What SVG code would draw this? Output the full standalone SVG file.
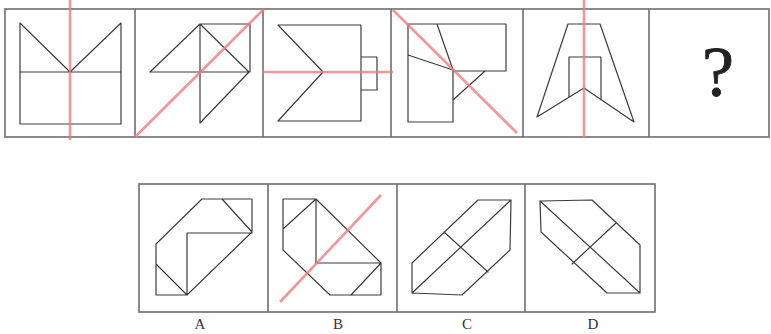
<svg xmlns="http://www.w3.org/2000/svg" width="771" height="334" viewBox="0 0 771 334">
<style>
.frame{fill:none;stroke:#6e6e6e;stroke-width:1.6}
.fig{fill:none;stroke:#3c3c3c;stroke-width:1.2;stroke-linejoin:round;stroke-linecap:round}
.axis{stroke:#f07a80;stroke-width:2.6;stroke-opacity:0.8;fill:none}
.lbl{font-family:"Liberation Serif",serif;font-size:15px;fill:#333;text-anchor:middle}
.q{font-family:"Liberation Serif",serif;font-size:72px;fill:#222;text-anchor:middle;stroke:#222;stroke-width:0.8}
</style>
<rect width="771" height="334" fill="#fff"/>
<g id="top-row-frame">
<rect class="frame" x="5" y="9" width="764" height="128"/>
<line class="frame" x1="135" y1="9" x2="135" y2="137"/>
<line class="frame" x1="263" y1="9" x2="263" y2="137"/>
<line class="frame" x1="391" y1="9" x2="391" y2="137"/>
<line class="frame" x1="523" y1="9" x2="523" y2="137"/>
<line class="frame" x1="649" y1="9" x2="649" y2="137"/>
</g>
<g id="fig1">
<path class="fig" d="M20,23 L20,124 L121,124 L121,23 L70,72 L20,23 M20,72 L121,72"/>
<line class="axis" x1="70" y1="0" x2="70" y2="140"/>
</g>
<g id="fig2">
<path class="fig" d="M150,72 L200,24 L250,24 L250,72 M200,24 L249,72 L200,123 L200,24 M150,72 L249,72"/>
<line class="axis" x1="135" y1="137" x2="264" y2="9"/>
</g>
<g id="fig3">
<path class="fig" d="M278,25 L361,25 L361,121 L278,121 L323,72 Z M361,57 L377,57 L377,90 L361,90"/>
<line class="axis" x1="263" y1="72" x2="393" y2="72"/>
</g>
<g id="fig4">
<path class="fig" d="M408,24 L506,24 L506,71 L453,71 M408,24 L408,122 L453,122 L453,70 M437,24 L453,70 M408,55 L453,70 M453,100 L485,71"/>
<line class="axis" x1="393" y1="10" x2="517" y2="133"/>
</g>
<g id="fig5">
<path class="fig" d="M568,24 L600,24 L634,122 L584,88 L537,117 Z M569,97 L569,57 L601,57 L601,100"/>
<line class="axis" x1="584" y1="0" x2="584" y2="138"/>
</g>
<g id="fig6">
<text class="q" x="718" y="96">?</text>
</g>
<g id="bottom-row-frame">
<rect class="frame" x="139" y="184" width="516" height="128"/>
<line class="frame" x1="268" y1="184" x2="268" y2="312"/>
<line class="frame" x1="397" y1="184" x2="397" y2="312"/>
<line class="frame" x1="525" y1="184" x2="525" y2="312"/>
</g>
<g id="optA">
<path class="fig" d="M202,199 L252,199 L252,232 L187,295 L156,295 L156,244 Z M222,199 L252,232 M156,264 L187,295 M187,295 L187,233 L252,233"/>
<text class="lbl" x="200" y="329">A</text>
</g>
<g id="optB">
<path class="fig" d="M283,199 L316,199 L381,263 L381,295 L330,295 L283,250 Z M316,199 L316,263 L381,263 M316,199 L283,229 M381,263 L351,295"/>
<line class="axis" x1="280" y1="302" x2="381" y2="195"/>
<text class="lbl" x="338" y="329">B</text>
</g>
<g id="optC">
<path class="fig" d="M478,200 L511,200 L510,250 L462,295 L412,293 L412,263 Z M412,293 L511,200 M444,232 L488,272"/>
<text class="lbl" x="467" y="329">C</text>
</g>
<g id="optD">
<path class="fig" d="M540,201 L592,200 L640,245 L640,293 L607,293 L541,232 Z M540,201 L640,293 M616,223 L572,264"/>
<text class="lbl" x="593" y="329">D</text>
</g>
</svg>
